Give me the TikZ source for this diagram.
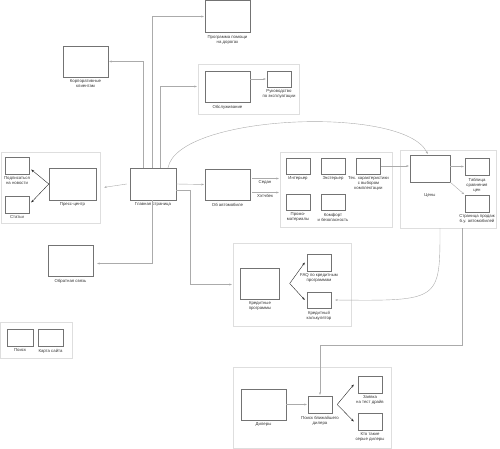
\documentclass[tikz,border=0pt]{standalone}
\usepackage{fontspec}
\setmainfont{Liberation Sans}
\usetikzlibrary{positioning,arrows.meta}
\tikzset{
  bigBox/.style={draw=black!55, fill=white, inner sep=0pt, minimum width=45pt, minimum height=31pt},
  smallBox/.style={draw=black!55, fill=white, inner sep=0pt, minimum width=24pt, minimum height=17pt},
  grpBox/.style={draw=black!13, inner sep=0pt},
  lbl/.style={inner sep=0pt, align=center, text=black!80, font=\fontsize{4.3}{5}\selectfont},
  link/.style={draw=black!33, line width=0.4pt, -{Stealth[length=2.5pt,width=2pt]}, shorten >=1pt},
  fan/.style={draw=black!85, line width=0.4pt, -{Stealth[length=3pt,width=2.2pt]}}
}

\begin{document}
\begin{tikzpicture}[x=1pt,y=-1pt]
\useasboundingbox (0,0) rectangle (500,449);
%% the groups
\node [grpBox, minimum width=99pt, minimum height=71pt] (pressGrp) at (50.5,187.5) {};
\node [grpBox, minimum width=101pt, minimum height=50pt] (serviceGrp) at (248.5,89) {};
\node [grpBox, minimum width=112pt, minimum height=75pt] (featGrp) at (336,189.5) {};
\node [grpBox, minimum width=96pt, minimum height=78pt] (pricesGrp) at (448,189) {};
\node [grpBox, minimum width=118pt, minimum height=83pt] (creditGrp) at (292,284.5) {};
\node [grpBox, minimum width=158pt, minimum height=81pt] (dealersGrp) at (312,407.5) {};
\node [grpBox, minimum width=72pt, minimum height=36pt] (miscGrp) at (36,340) {};
%the nodes
\node [bigBox, minimum width=46pt, minimum height=32pt] (main) at (153,184) {};
\node [lbl, below=2.5pt of main] (mainLbl) {Главная страница};
\node [bigBox, minimum height=32pt] (prog) at (227.5,16.5) {};
\node [lbl, below=2.5pt of prog] (progLbl) {Программа помощи\\на дорогах};
\node [bigBox] (corp) at (85.5,61.5) {};
\node [lbl, below=2.5pt of corp] (corpLbl) {Корпоративные\\клиентам};
\node [bigBox] (service) at (227.5,86.5) {};
\node [lbl, below=2.5pt of service] (serviceLbl) {Обслуживание};
\node [smallBox, minimum height=16pt] (manual) at (279,79) {};
\node [lbl, below=2.5pt of manual] (manualLbl) {Руководство\\по эксплуатации};
\node [bigBox] (about) at (227.5,184.5) {};
\node [lbl, below=2.5pt of about] (aboutLbl) {Об автомобиле};
\node [smallBox, minimum height=16pt] (interior) at (298,166) {};
\node [lbl, below=2.5pt of interior] (interiorLbl) {Интерьер};
\node [smallBox, minimum height=16pt] (exterior) at (333,166) {};
\node [lbl, below=2.5pt of exterior] (exteriorLbl) {Экстерьер};
\node [smallBox, minimum height=16pt] (tech) at (368.5,166) {};
\node [lbl, below=2.5pt of tech] (techLbl) {Тех. характеристики\\с выбором\\комплектации};
\node [smallBox, minimum height=16pt] (promo) at (298,202) {};
\node [lbl, below=2.5pt of promo] (promoLbl) {Промо-\\материалы};
\node [smallBox, minimum height=16pt] (comfort) at (333,202) {};
\node [lbl, below=2.5pt of comfort] (comfortLbl) {Комфорт\\и безопасность};
\node [bigBox, minimum width=40pt, minimum height=27pt] (prices) at (430,168.5) {};
\node [lbl, below=11pt of prices] (pricesLbl) {Цены};
\node [smallBox] (table) at (477,166.5) {};
\node [lbl, below=2.5pt of table] (tableLbl) {Таблица\\сравнения\\цен};
\node [smallBox] (usedCar) at (477,203.5) {};
\node [lbl, below=2.5pt of usedCar] (usedCarLbl) {Страница продаж\\б.у. автомобилей};
\node [bigBox, minimum width=39pt] (credit) at (260,283.5) {};
\node [lbl, below=2.5pt of credit] (creditLbl) {Кредитные\\программы};
\node [smallBox] (faq) at (319,262.5) {};
\node [lbl, below=2.5pt of faq] (faqLbl) {FAQ по кредитным\\программам};
\node [smallBox, minimum height=16pt] (calc) at (319,300) {};
\node [lbl, below=2.5pt of calc] (calcLbl) {Кредитный\\калькулятор};
\node [bigBox] (dealers) at (263.5,404.5) {};
\node [lbl, below=2.5pt of dealers] (dealersLbl) {Дилеры};
\node [smallBox] (search) at (320,404.5) {};
\node [lbl, below=2.5pt of search] (searchLbl) {Поиск ближайшего\\дилера};
\node [smallBox] (testDrive) at (370,384.5) {};
\node [lbl, below=2.5pt of testDrive] (testDriveLbl) {Заявка\\на тест драйв};
\node [smallBox] (grey) at (370,421.5) {};
\node [lbl, below=2.5pt of grey] (greyLbl) {Кто такие\\серые дилеры};
\node [bigBox, minimum width=47pt, minimum height=32pt] (press) at (72.5,184) {};
\node [lbl, below=2.5pt of press] (pressLbl) {Пресс-центр};
\node [smallBox] (subscribe) at (17,165.5) {};
\node [lbl, below=2.5pt of subscribe] (subscribeLbl) {Подписаться\\на новости};
\node [smallBox] (articles) at (17,204.5) {};
\node [lbl, below=2.5pt of articles] (articlesLbl) {Статьи};
\node [bigBox] (feedback) at (70.5,260.5) {};
\node [lbl, below=2.5pt of feedback] (feedbackLbl) {Обратная связь};
\node [smallBox, minimum width=26pt] (siteSearch) at (20,337.5) {};
\node [lbl, below=2.5pt of siteSearch] (siteSearchLbl) {Поиск};
\node [smallBox, minimum width=25pt] (siteMap) at (50.5,337.5) {};
\node [lbl, below=2.5pt of siteMap] (siteMapLbl) {Карта сайта};
%drawings of lines
\draw [link] ([xshift=-3pt]main.west) -- ([xshift=3pt]pressGrp.east);
\draw [link] ([xshift=-10pt]main.north) |- (corp.east);
\draw [link] ([xshift=-1pt]main.north) |- (prog.west);
\draw [link] ([xshift=7pt]main.north) |- (serviceGrp.west |- service.west);
\draw [link] ([xshift=15pt]main.north) .. controls (178,114) and (405,105) .. ([xshift=-2pt]prices.north);
\draw [link] (main.east) -- (about.west);
\draw [link] ([yshift=-6pt]main.east) -- ++(14,0) |- (creditGrp.west);
\draw [link] ([xshift=-1pt]main.south) |- ([yshift=-3pt,xshift=3pt]feedback.east);
\draw [link] (service.east |- manual.west) -- (manual.west);
\draw [link, shorten <=2pt] ([yshift=6pt]about.east) -- node [lbl, below=2pt] (sedanLbl) {Седан} (featGrp.west |- 0,178.5);
\draw [link, shorten <=2pt] ([yshift=-8pt]about.east) -- node [lbl, below=2pt] (hatchLbl) {Хэтчбек} (featGrp.west |- 0,192.5);
\draw [link] (tech.east) -- (prices.west |- tech.east);
\draw [link] (prices.east |- table.west) -- (table.west);
\draw [link] (prices.south east) -- (usedCar.north west);
\draw [link] ([xshift=-8pt]pricesGrp.south) .. controls (440,301) .. ([xshift=3pt]calc.east);
\draw [link] ([xshift=14pt]pricesGrp.south) -- ++(0,117) -| (search.north);
\draw [link] (dealers.east) -- (search.west);
%fans
\draw [fan] (press.west) -- ([xshift=2pt,yshift=-4pt]subscribe.east);
\draw [fan] (press.west) -- ([xshift=2pt,yshift=2pt]articles.east);
\draw [fan] ([xshift=10pt]credit.east) -- ([xshift=-2pt]faq.west);
\draw [fan] ([xshift=10pt]credit.east) -- ([xshift=-2pt]calc.west);
\draw [fan] ([xshift=5pt]search.east) -- ([xshift=-4pt]testDrive.west);
\draw [fan] ([xshift=5pt]search.east) -- ([xshift=-4pt]grey.west);
\end{tikzpicture}
\end{document}
